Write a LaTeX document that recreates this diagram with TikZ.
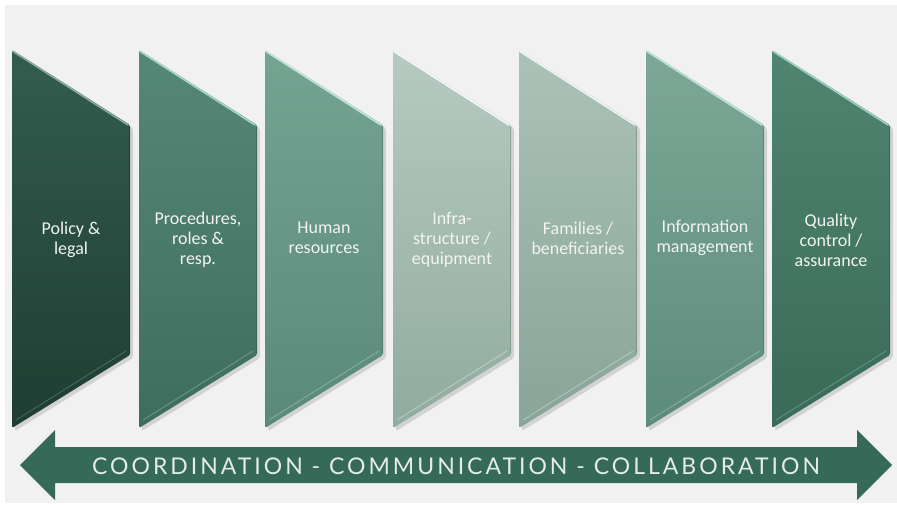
\documentclass[tikz,border=0pt]{standalone}
\usepackage{fontspec}
\setmainfont{Carlito}
\newfontfamily\arrowfont[LetterSpace=13]{Lato}
\definecolor{bg}{HTML}{F1F1F1}
\definecolor{labeltext}{HTML}{F2F4F2}
\definecolor{arrowc}{HTML}{356A58}
\definecolor{arrowtext}{HTML}{E4ECE7}
\definecolor{shadowc}{HTML}{9A9A9A}
\definecolor{aT}{HTML}{325D4E}\definecolor{aB}{HTML}{1F3D32}\definecolor{aE}{HTML}{8AAA9D}
\definecolor{bT}{HTML}{568877}\definecolor{bB}{HTML}{3F6D5D}\definecolor{bE}{HTML}{A3D6C3}
\definecolor{cT}{HTML}{76A493}\definecolor{cB}{HTML}{5A897A}\definecolor{cE}{HTML}{BFE6D7}
\definecolor{dT}{HTML}{B6CAC1}\definecolor{dB}{HTML}{91AB9F}\definecolor{dE}{HTML}{F4F8F6}
\definecolor{eT}{HTML}{ABC2B8}\definecolor{eB}{HTML}{89A498}\definecolor{eE}{HTML}{EEF5F1}
\definecolor{fT}{HTML}{7DA898}\definecolor{fB}{HTML}{5D8B7B}\definecolor{fE}{HTML}{BCE3D4}
\definecolor{gT}{HTML}{4F8571}\definecolor{gB}{HTML}{3A6A58}\definecolor{gE}{HTML}{9DD0BC}
\tikzset{
  lbl/.style={text=labeltext, align=center, font=\fontsize{18}{20}\selectfont, inner sep=0pt},
  arrowlbl/.style={text=arrowtext, font=\arrowfont\fontsize{23}{25}\selectfont, inner sep=0pt},
}
\newcommand\slab[4]{%
  \fill[shadowc, opacity=.35, rounded corners=2pt] (#1+3,53) -- (#1+121,128) -- (#1+121,358) -- (#1+3,431) -- cycle;
  \shade[top color=#2, bottom color=#3, rounded corners=1.5pt] (#1,50) -- (#1+118,125) -- (#1+118,355) -- (#1,428) -- cycle;
  \draw[#4, line width=1.6pt, line cap=round] (#1+1,51.5) -- (#1+116,125);
  \draw[#4, opacity=.35, line width=1pt] (#1+4,420) -- (#1+114,351);
  \draw[#3!80!black, opacity=.5, line width=1pt] (#1+117.5,127) -- (#1+117.5,353);
}
\begin{document}
\begin{tikzpicture}[x=1pt,y=-1pt]
  \fill[white] (0,0) rectangle (897,504);
  \fill[bg] (5,5) rectangle (897,503);
  \useasboundingbox (0,0) rectangle (897,504);
  \slab{12}{aT}{aB}{aE}
  \slab{139}{bT}{bB}{bE}
  \slab{265}{cT}{cB}{cE}
  \slab{393}{dT}{dB}{dE}
  \slab{519}{eT}{eB}{eE}
  \slab{646}{fT}{fB}{fE}
  \slab{772}{gT}{gB}{gE}
  \node[lbl] (s1) at (71,240) {Policy \&\\legal};
  \node[lbl] (s2) at (198,240) {Procedures,\\roles \&\\resp.};
  \node[lbl] (s3) at (324,238) {Human\\resources};
  \node[lbl] (s4) at (452,240) {Infra-\\structure /\\equipment};
  \node[lbl] (s5) at (578,238) {Families /\\beneficiaries};
  \node[lbl] (s6) at (705,238) {Information\\management};
  \node[lbl] (s7) at (831,240) {Quality\\control /\\assurance};
  \fill[arrowc] (20,465) -- (55,430) -- (55,447) -- (857,447) -- (857,430) -- (892,465)
     -- (857,500) -- (857,483) -- (55,483) -- (55,500) -- cycle;
  \node[arrowlbl] (band) at (456,466) {COORDINATION - COMMUNICATION - COLLABORATION};
\end{tikzpicture}
\end{document}
